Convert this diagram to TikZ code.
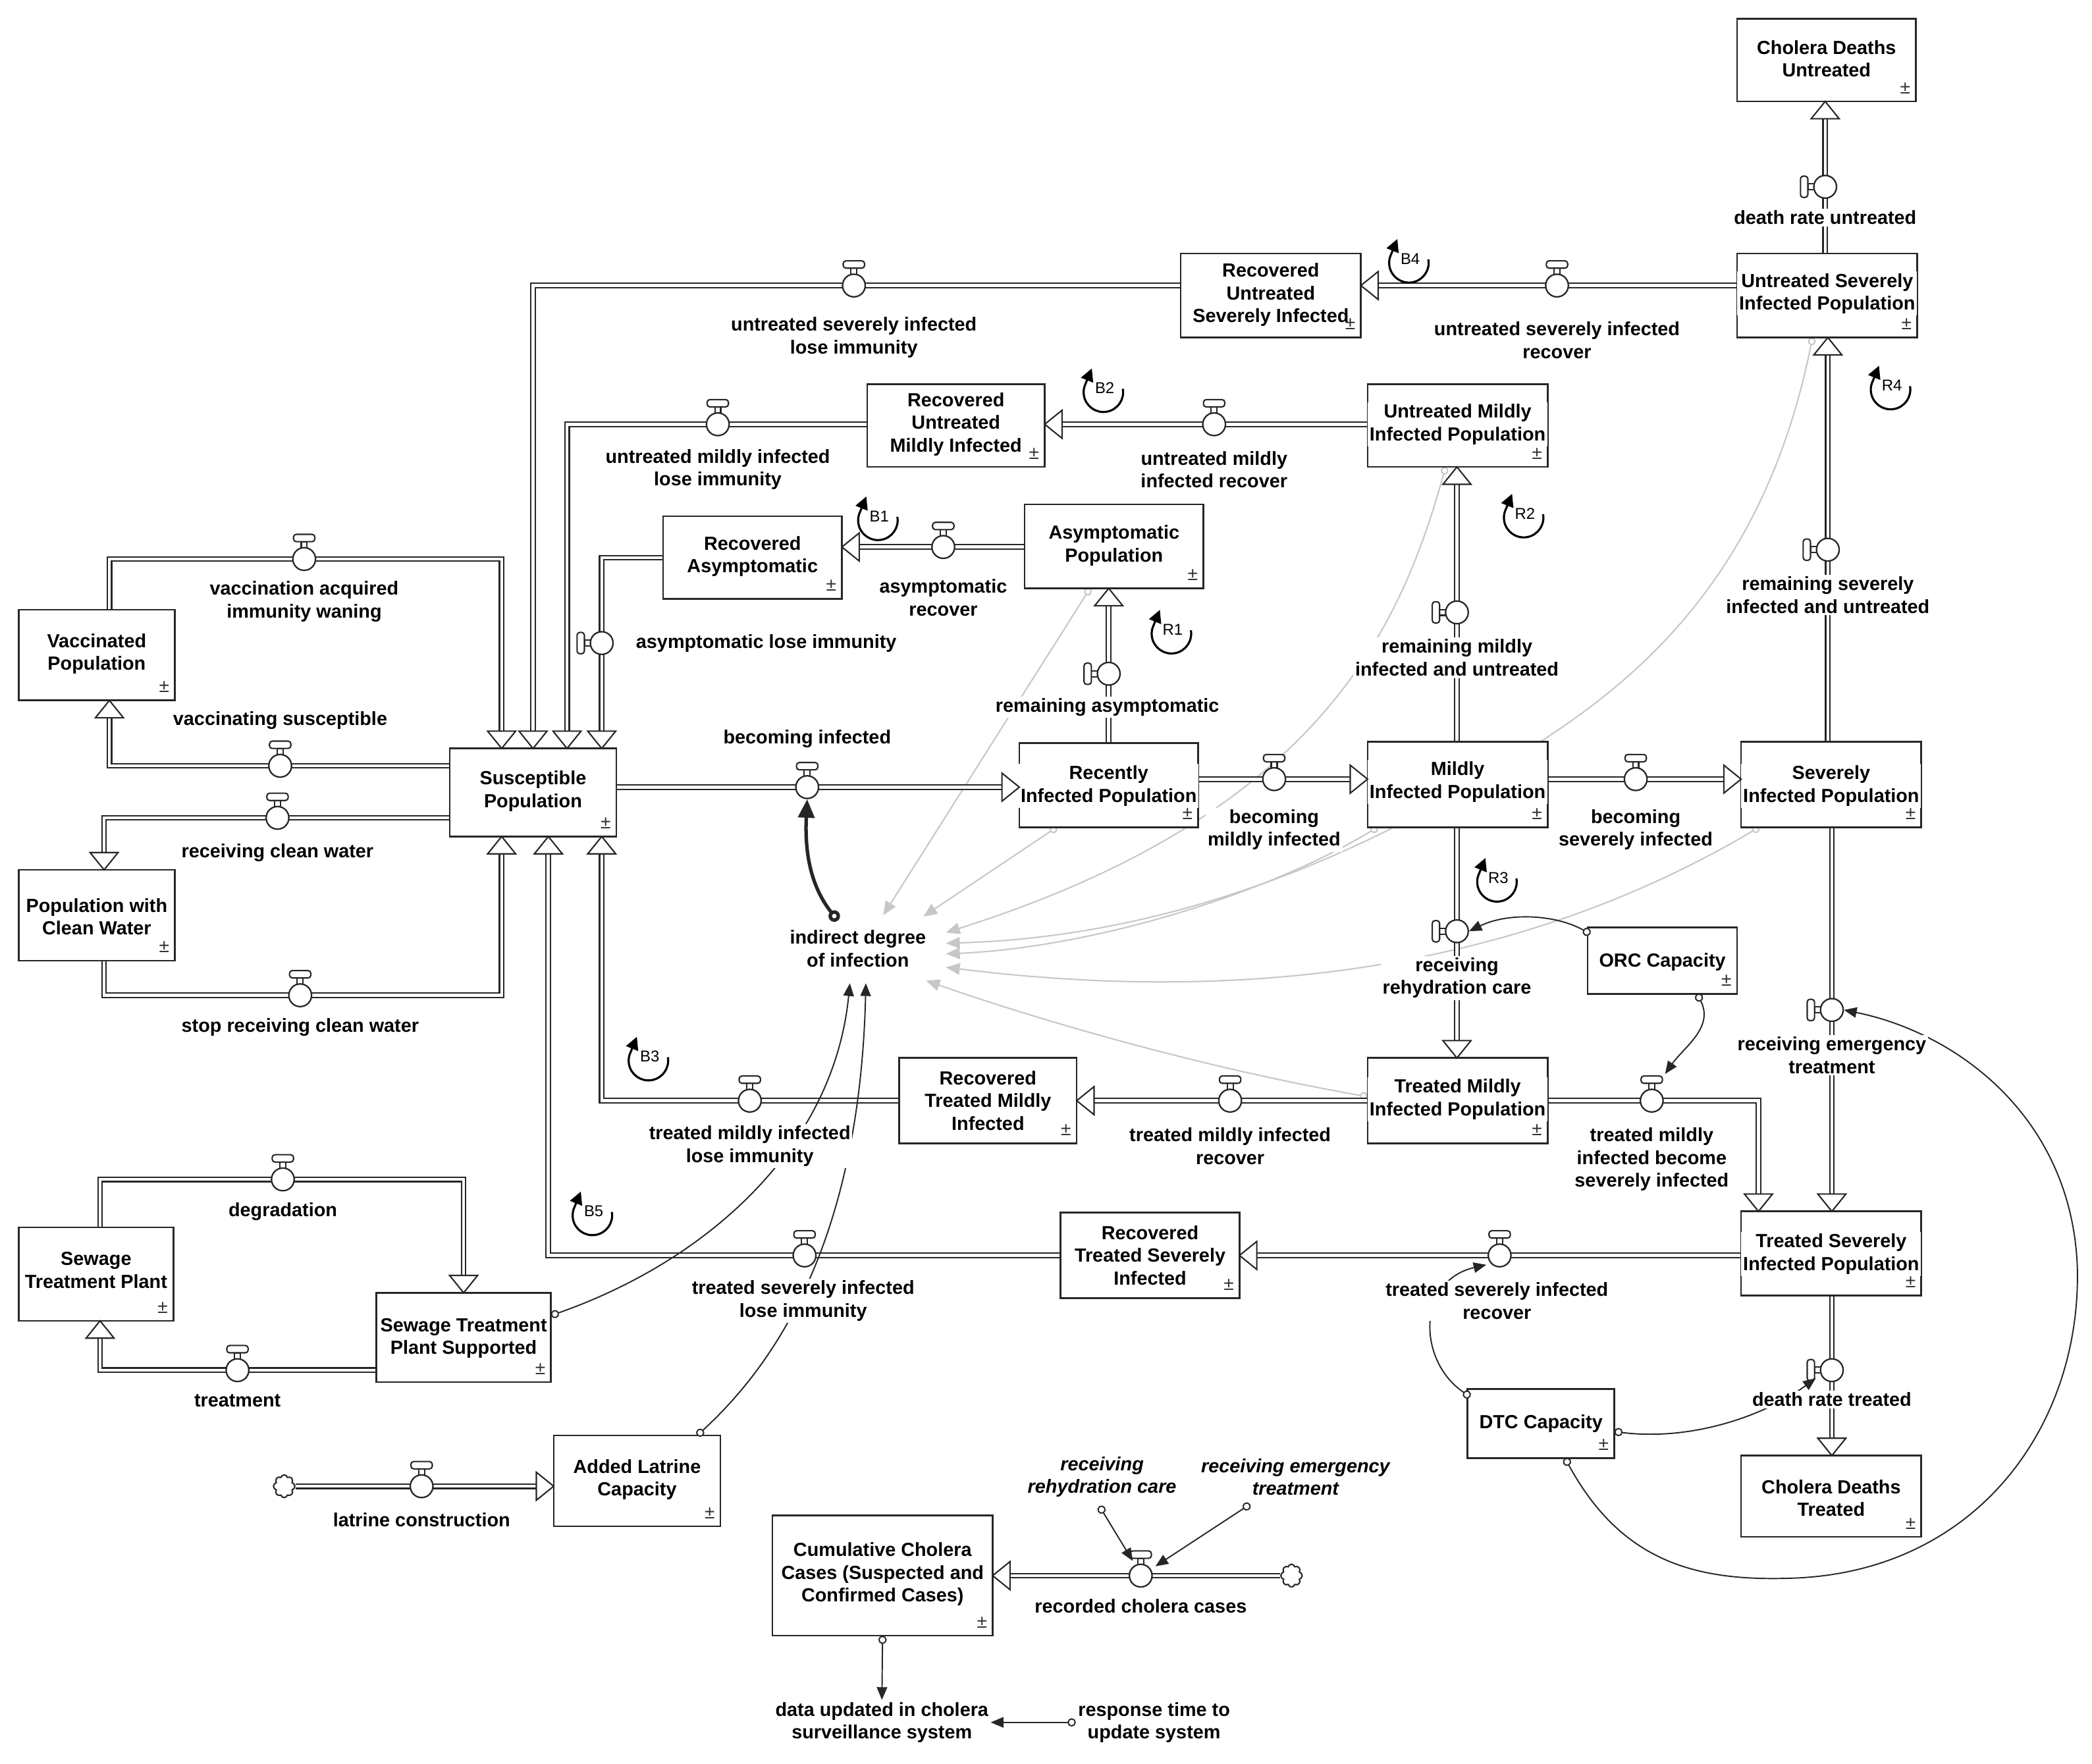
\documentclass[tikz,border=0pt]{standalone}
\usepackage{fontspec}
\setmainfont{Liberation Sans}
\usetikzlibrary{arrows.meta,calc,shapes.symbols}
\pgfdeclarelayer{glayer}
\pgfdeclarelayer{players}
\pgfsetlayers{glayer,players,main}
\newcommand\lf{\fontsize{8.2}{9.8}\selectfont\bfseries}
\def\uu{0.02026cm}
\tikzset{
 stockbox/.style={draw=black!85, line width=0.75pt, fill=white, inner sep=0pt, outer sep=0pt},
 stocktext/.style={font=\lf, align=center, fill=white, inner sep=0.8pt},
 pm/.style={font=\fontsize{8}{8}\selectfont, inner sep=0pt, text=black!80},
 pipe/.style={draw=black!85, double=white, double distance=1.3pt, line width=0.6pt, line join=miter},
 ahead/.style={draw=black!85, fill=white, line width=0.6pt, line join=miter},
 valvec/.style={circle, draw=black!85, fill=white, line width=0.65pt, minimum size=17*\uu, inner sep=0pt},
 valvep/.style={draw=black!85, fill=white, line width=0.6pt},
 lbl/.style={font=\lf, align=center, fill=white, inner sep=0.8pt},
 ilbl/.style={font=\fontsize{8.2}{9.8}\selectfont\bfseries\itshape, align=center, inner sep=0.8pt},
 link/.style={draw=black!85, line width=0.55pt, {Circle[fill=white,length=3.6pt,width=3.6pt]}-{Triangle[length=5.5pt,width=4.5pt]}},
 glink/.style={draw=black!22, line width=0.6pt, {Circle[fill=white,length=3.4pt,width=3.4pt]}-{Triangle[length=6pt,width=5pt]}},
 loopm/.style={line width=0.9pt, -{Triangle[length=5.5pt,width=5.5pt]}},
 looplbl/.style={font=\fontsize{6.8}{7}\selectfont, inner sep=0pt},
 cloudn/.style={cloud, draw=black!85, fill=white, cloud puffs=8, aspect=0.9, minimum width=16*\uu, minimum height=17*\uu, inner sep=0pt, line width=0.6pt}
}
\newcommand\stock[7]{%
 \node[stockbox, minimum width={(#4-#2)*\uu}, minimum height={(#5-#3)*\uu}] (#1) at ({(#2+#4)/2},{(#3+#5)/2}) {};
 \node[stocktext] (#1-t) at ({(#2+#4)/2},#7) {#6};
 \node[pm] (#1-pm) at ({#4-8},{#5-10}) {±};
}
\newcommand\valveh[3]{%
 \draw[valvep] ({#2-2.2},{#3-8}) rectangle ({#2+2.2},{#3-13});
 \draw[valvep, rounded corners=1.2pt] ({#2-8},{#3-13}) rectangle ({#2+8},{#3-18.5});
 \node[valvec] (#1) at (#2,#3) {};
}
\newcommand\valvev[3]{%
 \draw[valvep] ({#2-8},{#3-2.2}) rectangle ({#2-13},{#3+2.2});
 \draw[valvep, rounded corners=1.2pt] ({#2-13},{#3-8}) rectangle ({#2-18.5},{#3+8});
 \node[valvec] (#1) at (#2,#3) {};
}
\newcommand\arR[1]{\draw[ahead] #1 -- ++(-13,-10.5) -- ++(0,21) -- cycle;}
\newcommand\arL[1]{\draw[ahead] #1 -- ++(13,-10.5) -- ++(0,21) -- cycle;}
\newcommand\arU[1]{\draw[ahead] #1 -- ++(-10.5,13) -- ++(21,0) -- cycle;}
\newcommand\arD[1]{\draw[ahead] #1 -- ++(-10.5,-13) -- ++(21,0) -- cycle;}
\newcommand\loopmark[3]{%
 \draw[loopm] ($(#1,#2)+(10:0.30cm)$) arc[start angle=10, end angle=-198, radius=0.30cm] -- ++(0.11cm,0.27cm);
 \node[looplbl] at (#1+1,#2-3) {#3};
}
\begin{document}
\begin{tikzpicture}[x=0.02026cm, y=-0.02026cm]
\useasboundingbox (0,0) rectangle (1568,1322);

% ---------- stocks
\stock{cdu}{1302}{14}{1436}{76}{Cholera Deaths\\Untreated}{44}
\stock{usi}{1302}{190}{1437}{253}{Untreated Severely\\Infected Population}{220}
\stock{rusi}{885}{190}{1020}{253}{Recovered\\Untreated\\Severely Infected}{221}
\stock{rumi}{650}{288}{783}{350}{Recovered\\Untreated\\Mildly Infected}{318}
\stock{umi}{1025}{288}{1160}{350}{Untreated Mildly\\Infected Population}{318}
\stock{ra}{497}{387}{631}{449}{Recovered\\Asymptomatic}{417}
\stock{ap}{768}{378}{902}{441}{Asymptomatic\\Population}{409}
\stock{vp}{14}{457}{131}{525}{Vaccinated\\Population}{490}
\stock{sp}{337}{561}{462}{627}{Susceptible\\Population}{593}
\stock{pcw}{14}{652}{131}{720}{Population with\\Clean Water}{687}
\stock{rip}{764}{557}{898}{620}{Recently\\Infected Population}{589}
\stock{mip}{1025}{556}{1160}{620}{Mildly\\Infected Population}{586}
\stock{sip}{1305}{556}{1440}{620}{Severely\\Infected Population}{589}
\stock{orc}{1190}{695}{1302}{745}{ORC Capacity}{721}
\stock{rtmi}{674}{793}{807}{857}{Recovered\\Treated Mildly\\Infected}{825}
\stock{tmi}{1025}{793}{1160}{857}{Treated Mildly\\Infected Population}{824}
\stock{rtsi}{795}{909}{929}{973}{Recovered\\Treated Severely\\Infected}{941}
\stock{tsi}{1305}{908}{1440}{971}{Treated Severely\\Infected Population}{940}
\stock{stp}{14}{920}{130}{990}{Sewage\\Treatment Plant}{952}
\stock{stps}{282}{969}{413}{1036}{Sewage Treatment\\Plant Supported}{1003}
\stock{alc}{415}{1076}{540}{1144}{Added Latrine\\Capacity}{1109}
\stock{dtc}{1100}{1041}{1210}{1093}{DTC Capacity}{1067}
\stock{cdt}{1305}{1091}{1440}{1152}{Cholera Deaths\\Treated}{1123}
\stock{ccc}{579}{1136}{744}{1226}{Cumulative Cholera\\Cases (Suspected and\\Confirmed Cases)}{1180}

% ---------- clouds
\node[cloudn] (cl1) at (213,1114) {};
\node[cloudn] (cl2) at (968,1181) {};

% ---------- valves
\valvev{vdru}{1368}{140}
\valveh{vusir}{1167}{214}
\valveh{vusili}{640}{214}
\valveh{vumir}{910}{318}
\valveh{vumili}{538}{318}
\valveh{var}{707}{410}
\valvev{vali}{451}{482}
\valveh{vvaiw}{228}{419}
\valveh{vvs}{210}{574}
\valveh{vrcw}{208}{613}
\valveh{vsrcw}{225}{746}
\valveh{vbi}{605}{590}
\valvev{vra}{831}{505}
\valveh{vbmi}{955}{584}
\valvev{vrmiu}{1092}{459}
\valveh{vbsi}{1226}{584}
\valvev{vrsiu}{1370}{412}
\valvev{vrrc}{1092}{698}
\valvev{vret}{1373}{757}
\valveh{vtmir}{922}{825}
\valveh{vtmili}{562}{825}
\valveh{vtmibs}{1238}{825}
\valveh{vtsir}{1124}{941}
\valveh{vtsili}{603}{941}
\valvev{vdrt}{1373}{1027}
\valveh{vdeg}{212}{884}
\valveh{vtrt}{178}{1027}
\valveh{vlc}{316}{1114}
\valveh{vrcc}{855}{1181}

% ---------- pipes
\begin{pgfonlayer}{players}
\draw[pipe] (usi.north -| vdru) -- ($(cdu.south -| vdru)+(0,13)$);
\draw[pipe] (usi.west |- vusir) -- ($(rusi.east |- vusir)+(13,0)$);
\draw[pipe] (rusi.west |- vusili) -| ($(sp.north)+(0,-13)$);
\draw[pipe] (umi.west |- vumir) -- ($(rumi.east |- vumir)+(13,0)$);
\draw[pipe] (rumi.west |- vumili) -| ($(sp.north)+(25.5,-13)$);
\draw[pipe] (ap.west |- var) -- ($(ra.east |- var)+(13,0)$);
\draw[pipe] (ra.west) -| ($(sp.north -| vali)+(0,-13)$);
\draw[pipe] ($(vp.north)+(9.5,0)$) |- (vvaiw.center) -| ($(sp.north)+(-23.5,-13)$);
\draw[pipe] (sp.west |- vvs) -| ($(vp.south)+(9.5,13)$);
\draw[pipe] (sp.west |- vrcw) -| ($(pcw.north)+(5.5,-13)$);
\draw[pipe] ($(pcw.south)+(5.5,0)$) |- (vsrcw.center) -| ($(sp.south)+(-23.5,13)$);
\draw[pipe] (sp.east |- vbi) -- ($(rip.west |- vbi)+(-13,0)$);
\draw[pipe] (rip.north -| vra) -- ($(ap.south -| vra)+(0,13)$);
\draw[pipe] (rip.east |- vbmi) -- ($(mip.west |- vbmi)+(-13,0)$);
\draw[pipe] (mip.north -| vrmiu) -- ($(umi.south -| vrmiu)+(0,13)$);
\draw[pipe] (mip.east |- vbsi) -- ($(sip.west |- vbsi)+(-13,0)$);
\draw[pipe] (sip.north -| vrsiu) -- ($(usi.south -| vrsiu)+(0,13)$);
\draw[pipe] (mip.south -| vrrc) -- ($(tmi.north -| vrrc)+(0,-13)$);
\draw[pipe] (sip.south -| vret) -- ($(tsi.north -| vret)+(0,-13)$);
\draw[pipe] (tmi.west |- vtmir) -- ($(rtmi.east |- vtmir)+(13,0)$);
\draw[pipe] (rtmi.west |- vtmili) -| ($(sp.south -| vali)+(0,13)$);
\draw[pipe] (tmi.east |- vtmibs) -| ($(tsi.north)+(-54.5,-13)$);
\draw[pipe] (tsi.west |- vtsir) -- ($(rtsi.east |- vtsir)+(13,0)$);
\draw[pipe] (rtsi.west |- vtsili) -| ($(sp.south)+(11.5,13)$);
\draw[pipe] (tsi.south -| vdrt) -- ($(cdt.north -| vdrt)+(0,-13)$);
\draw[pipe] ($(stp.north)+(3,0)$) |- (vdeg.center) -| ($(stps.north)+(0,-13)$);
\draw[pipe] (stps.west |- vtrt) -| ($(stp.south)+(3,13)$);
\draw[pipe] (cl1.east) -- ($(alc.west |- vlc)+(-13,0)$);
\draw[pipe] (cl2.west) -- ($(ccc.east |- vrcc)+(13,0)$);
\end{pgfonlayer}

% ---------- arrowheads of flows
\arU{(cdu.south -| vdru)}
\arL{(rusi.east |- vusir)}
\arD{(sp.north)}
\arL{(rumi.east |- vumir)}
\arD{($(sp.north)+(25.5,0)$)}
\arL{(ra.east |- var)}
\arD{(sp.north -| vali)}
\arD{($(sp.north)+(-23.5,0)$)}
\arU{($(vp.south)+(9.5,0)$)}
\arD{($(pcw.north)+(5.5,0)$)}
\arU{($(sp.south)+(-23.5,0)$)}
\arR{(rip.west |- vbi)}
\arU{(ap.south -| vra)}
\arR{(mip.west |- vbmi)}
\arU{(umi.south -| vrmiu)}
\arR{(sip.west |- vbsi)}
\arU{(usi.south -| vrsiu)}
\arD{(tmi.north -| vrrc)}
\arD{(tsi.north -| vret)}
\arL{(rtmi.east |- vtmir)}
\arU{(sp.south -| vali)}
\arD{($(tsi.north)+(-54.5,0)$)}
\arL{(rtsi.east |- vtsir)}
\arU{($(sp.south)+(11.5,0)$)}
\arD{(cdt.north -| vdrt)}
\arD{(stps.north)}
\arU{($(stp.south)+(3,0)$)}
\arR{(alc.west |- vlc)}
\arL{(ccc.east |- vrcc)}

% ---------- auxiliaries
\node[lbl, fill=none] (idi) at (643,711) {indirect degree\\of infection};
\node[ilbl] (irc) at (826,1107) {receiving\\rehydration care};
\node[ilbl] (iet) at (971,1107) {receiving emergency\\treatment};
\node[lbl] (dus) at (661,1291) {data updated in cholera\\surveillance system};
\node[lbl] (rtu) at (865,1291) {response time to\\update system};

% ---------- gray links
\begin{pgfonlayer}{glayer}
\draw[glink] ($(ap.south)+(-18,0)$) -- ($(idi)+(19,-25)$);
\draw[glink] ($(rip.south)+(-39,0)$) -- ($(idi)+(49,-24)$);
\draw[glink] ($(umi.south)+(-9,0)$) .. controls (1050,470) and (990,610) .. ($(idi)+(66,-12)$);
\draw[glink] ($(usi.south)+(-11,0)$) .. controls (1325,420) and (1240,500) .. (1159,553) .. controls (1000,660) and (850,703) .. ($(idi)+(66,-4)$);
\draw[glink] ($(mip.south)+(-60,0)$) .. controls (950,670) and (820,710) .. ($(idi)+(66,4)$);
\draw[glink] ($(sip.south)+(-54,0)$) .. controls (1150,720) and (950,755) .. ($(idi)+(66,14)$);
\draw[glink] ($(tmi.west)+(0,-3)$) .. controls (900,800) and (780,765) .. ($(idi)+(51,24)$);
\end{pgfonlayer}

% ---------- black links
\draw[link, line width=1.5pt, {Circle[fill=white,length=5pt,width=5pt]}-{Triangle[length=8pt,width=7pt]}] ($(idi)+(-15,-21)$) .. controls (608,665) and (603,640) .. (vbi.south);
\draw[link] ($(stps.north east)+(0,17)$) .. controls (530,945) and (625,860) .. ($(idi)+(-6,26)$);
\draw[link] ($(alc.north)+(45,0)$) .. controls (600,1005) and (645,900) .. ($(idi)+(6,26)$);
\draw[link] ($(orc.north west)+(2,5)$) .. controls (1165,685) and (1130,684) .. (vrrc.east);
\draw[link] ($(orc.south)+(26,0)$) .. controls (1285,770) and (1262,785) .. ($(vtmibs)+(10,-20)$);
\draw[link] ($(dtc.north west)+(2,6)$) .. controls (1062,1020) and (1062,960) .. ($(vtsir)+(-10,7)$);
\draw[link] ($(dtc.east)+(0,6)$) .. controls (1265,1080) and (1320,1063) .. ($(vdrt)+(-12,6)$);
\draw[link] ($(dtc.south)+(18,0)$) .. controls (1215,1170) and (1270,1185) .. (1340,1183) .. controls (1480,1180) and (1560,1070) .. (1557,950) .. controls (1553,840) and (1470,775) .. (vret.east);
\draw[link] (ccc.south) -- (dus.north);
\draw[link] (rtu.west) -- (dus.east);
\draw[link] ($(irc.south)+(-2,5)$) -- ($(vrcc)+(-6,-11)$);
\draw[link] ($(iet.south)+(-34,5)$) -- ($(vrcc)+(11,-7)$);

% ---------- flow labels
\node[lbl] (l1) at (1368,163) {death rate untreated};
\node[lbl] (l2) at (1167,255) {untreated severely infected\\recover};
\node[lbl] (l3) at (640,253) {untreated severely infected\\lose immunity};
\node[lbl] (l4) at (910,352) {untreated mildly\\infected recover};
\node[lbl] (l5) at (538,352) {untreated mildly infected\\lose immunity};
\node[lbl] (l6) at (707,448) {asymptomatic\\recover};
\node[lbl, anchor=west] (l7) at (475,482) {asymptomatic lose immunity};
\node[lbl] (l8) at (228,451) {vaccination acquired\\immunity waning};
\node[lbl] (l9) at (210,540) {vaccinating susceptible};
\node[lbl] (l10) at (208,639) {receiving clean water};
\node[lbl] (l11) at (225,770) {stop receiving clean water};
\node[lbl] (l12) at (605,554) {becoming infected};
\node[lbl] (l13) at (830,530) {remaining asymptomatic};
\node[lbl] (l14) at (955,622) {becoming\\mildly infected};
\node[lbl] (l15) at (1092,493) {remaining mildly\\infected and untreated};
\node[lbl] (l16) at (1226,622) {becoming\\severely infected};
\node[lbl] (l17) at (1370,446) {remaining severely\\infected and untreated};
\node[lbl] (l18) at (1092,733) {receiving\\rehydration care};
\node[lbl] (l19) at (1373,791) {receiving emergency\\treatment};
\node[lbl] (l20) at (922,859) {treated mildly infected\\recover};
\node[lbl] (l21) at (562,859) {treated mildly infected\\lose immunity};
\node[lbl] (l22) at (1238,869) {treated mildly\\infected become\\severely infected};
\node[lbl] (l23) at (1122,975) {treated severely infected\\recover};
\node[lbl] (l24) at (602,975) {treated severely infected\\lose immunity};
\node[lbl] (l25) at (1373,1049) {death rate treated};
\node[lbl] (l26) at (212,908) {degradation};
\node[lbl] (l27) at (178,1050) {treatment};
\node[lbl] (l28) at (316,1139) {latrine construction};
\node[lbl] (l29) at (855,1204) {recorded cholera cases};

% ---------- loop markers
\loopmark{1056}{197}{B4}
\loopmark{827}{294}{B2}
\loopmark{658}{390}{B1}
\loopmark{878}{475}{R1}
\loopmark{1142}{388}{R2}
\loopmark{1417}{292}{R4}
\loopmark{1122}{661}{R3}
\loopmark{486}{795}{B3}
\loopmark{444}{911}{B5}
\end{tikzpicture}
\end{document}
